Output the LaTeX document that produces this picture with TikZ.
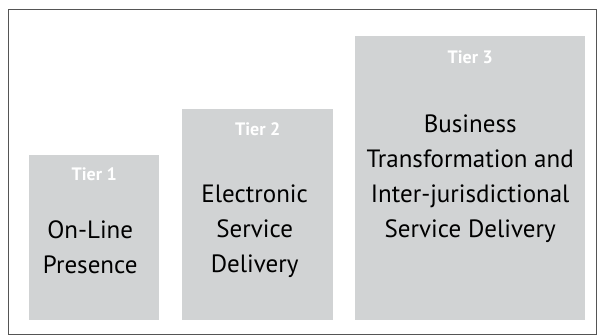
\documentclass[tikz,border=0pt]{standalone}
\usepackage{fontspec}
\setmainfont{PT Sans}
\definecolor{tiergray}{HTML}{D1D3D4}
\definecolor{framegray}{HTML}{555555}
\begin{document}
\begin{tikzpicture}[
			x = 1pt, y = -1pt,
			tierbox/.style = {fill = tiergray, draw = none, anchor = north west, inner sep = 0pt},
			tiername/.style = {text = white, font = \bfseries\fontsize{18}{18}\selectfont, anchor = base, inner sep = 0pt},
			tiertext/.style = {font = \fontsize{25}{35}\selectfont, align = center, anchor = base, inner sep = 0pt}
			]

			\useasboundingbox (0,0) rectangle (597,335);
			\draw[framegray, line width = 1pt] (8.5,9.5) rectangle (596.5,334);

			\node[tierbox, minimum width = 130pt, minimum height = 165pt] (tier1) at (29,155) {};
			\node[tierbox, minimum width = 151pt, minimum height = 211pt] (tier2) at (182,109) {};
			\node[tierbox, minimum width = 230pt, minimum height = 284pt] (tier3) at (355,36) {};

			\node[tiername] (name1) at ([yshift=-25pt]tier1.north) {Tier 1};
			\node[tiername] (name2) at ([yshift=-26pt]tier2.north) {Tier 2};
			\node[tiername] (name3) at ([yshift=-27pt]tier3.north) {Tier 3};

			% base anchor sits on the last line
			\node[tiertext] (text1) at ([xshift=-4pt,yshift=-118pt]tier1.north) {On-Line\\Presence};
			\node[tiertext] (text2) at ([xshift=-3pt,yshift=-163pt]tier2.north) {Electronic\\Service\\Delivery};
			\node[tiertext] (text3) at ([yshift=-201pt]tier3.north) {Business\\Transformation and\\Inter-jurisdictional\\Service Delivery};

		\end{tikzpicture}
\end{document}
